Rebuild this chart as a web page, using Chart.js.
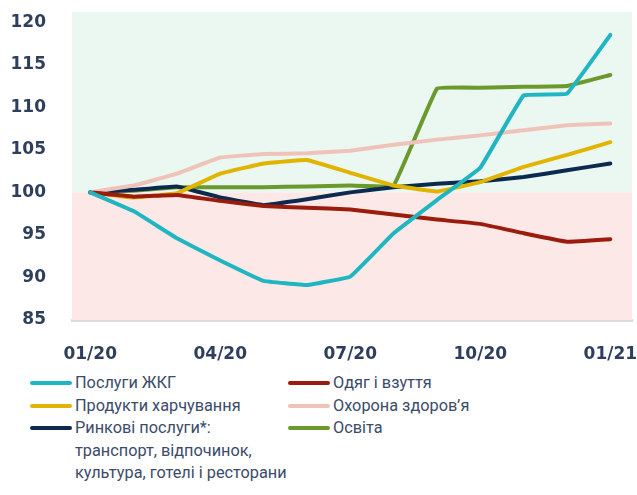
<!DOCTYPE html>
<html lang="uk">
<head>
<meta charset="utf-8">
<script src="https://cdn.jsdelivr.net/npm/chart.js@4.4.1/dist/chart.umd.min.js"></script>
<style>
  html, body { margin: 0; padding: 0; background: #fff; }
  #wrap { position: relative; width: 637px; height: 495px; overflow: hidden; }
  #box { position: absolute; left: 0; top: 0; width: 637px; height: 370px; }
  #legend {
    position: absolute; left: 30px; top: 372px;
    display: grid; grid-template-columns: 258px 300px; align-items: start;
    font-family: Roboto, "Liberation Sans", sans-serif; font-size: 16.3px;
    line-height: 22.5px; color: #3b4b6a;
  }
  .item { display: flex; align-items: flex-start; }
  .mark { flex: none; width: 42px; height: 4px; border-radius: 2px; margin: 9px 3px 0 0; }
  .txt { white-space: pre; }
</style>
</head>
<body>
<div id="wrap">
  <div id="box"><canvas id="chart"></canvas></div>
  <div id="legend"></div>
</div>
<script>
// months 01/20 .. 01/21, index = month number from start
const months = ['01/20', '02/20', '03/20', '04/20', '05/20', '06/20', '07/20',
                '08/20', '09/20', '10/20', '11/20', '12/20', '01/21'];
const xTickIdx = [0, 3, 6, 9, 12];
const yTicks = [85, 90, 95, 100, 105, 110, 115, 120];

const housing   = [100, 97.8, 94.6, 92.0, 89.6, 89.1, 90.1, 95.2, 99.1, 102.9, 111.4, 111.6, 118.5];
const clothing  = [100, 99.5, 99.7, 99.0, 98.4, 98.2, 98.0, 97.4, 96.8, 96.3, 95.2, 94.2, 94.5];
const food      = [100, 99.4, 99.9, 102.2, 103.4, 103.8, 102.3, 100.8, 100.1, 101.2, 103.0, 104.4, 105.9];
const health    = [100, 100.8, 102.2, 104.1, 104.5, 104.6, 104.9, 105.6, 106.2, 106.7, 107.3, 107.9, 108.1];
const market    = [100, 100.3, 100.7, 99.4, 98.5, 99.2, 100.0, 100.6, 101.0, 101.3, 101.8, 102.6, 103.4];
const education = [100, 100.2, 100.6, 100.6, 100.6, 100.7, 100.8, 100.8, 112.2, 112.3, 112.4, 112.5, 113.8];

// legend order: left column / right column, row by row
const series = [
  { label: 'Послуги ЖКГ', data: housing, color: '#1fb6c2' },
  { label: 'Одяг і взуття', data: clothing, color: '#9b1c0c' },
  { label: 'Продукти харчування', data: food, color: '#e1b400' },
  { label: 'Охорона здоров’я', data: health, color: '#efc3ba' },
  { label: 'Ринкові послуги*:\nтранспорт, відпочинок,\nкультура, готелі і ресторани', data: market, color: '#0c2a4e' },
  { label: 'Освіта', data: education, color: '#6b9a2c' }
];

const yMin = 85, yMax = 121.2, yBase = 100;

// pale green above 100, pale red below
const bands = {
  id: 'bands',
  beforeDatasetsDraw(chart) {
    const { ctx, chartArea: a, scales: { y } } = chart;
    const mid = y.getPixelForValue(yBase);
    ctx.save();
    ctx.fillStyle = '#ebf7f1';
    ctx.fillRect(a.left, y.getPixelForValue(yMax), a.right - a.left, mid - y.getPixelForValue(yMax));
    ctx.fillStyle = '#fce9e7';
    ctx.fillRect(a.left, mid, a.right - a.left, y.getPixelForValue(yMin) - mid);
    ctx.restore();
  }
};

const tickFont = { family: '"DejaVu Sans", sans-serif', size: 17, weight: 'bold' };
const tickColor = '#2e3f5e';

new Chart(document.getElementById('chart'), {
  type: 'line',
  data: {
    datasets: series.map((s, i) => ({
      label: s.label,
      data: s.data.map((v, k) => ({ x: k, y: v })),
      borderColor: s.color,
      backgroundColor: s.color,
      borderWidth: 4,
      pointRadius: 0,
      tension: 0.06,
      borderCapStyle: 'round',
      borderJoinStyle: 'round',
      order: i
    }))
  },
  options: {
    responsive: true,
    maintainAspectRatio: false,
    animation: false,
    layout: { padding: { top: 12, right: 5, left: 0, bottom: 0 } },
    plugins: { legend: { display: false }, tooltip: { enabled: false } },
    scales: {
      x: {
        type: 'linear',
        min: -0.42,
        max: 12.5,
        grid: { display: false, drawTicks: false },
        border: { display: true, color: '#dcdcdc', width: 3 },
        afterBuildTicks: s => { s.ticks = xTickIdx.map(v => ({ value: v })); },
        afterFit: s => { s.height = 50; s.paddingLeft = 0; s.paddingRight = 0; },
        ticks: {
          autoSkip: false,
          maxRotation: 0,
          padding: 24,
          font: tickFont,
          color: tickColor,
          callback: v => months[v]
        }
      },
      y: {
        min: yMin,
        max: yMax,
        grid: { display: false, drawTicks: false },
        border: { display: false },
        afterBuildTicks: s => { s.ticks = yTicks.map(v => ({ value: v })); },
        afterFit: s => { s.width = 72; s.paddingTop = 0; s.paddingBottom = 0; },
        ticks: { padding: 26, font: tickFont, color: tickColor }
      }
    }
  },
  plugins: [bands]
});

// html legend built from the same series
const legend = document.getElementById('legend');
series.forEach(s => {
  const item = document.createElement('div');
  item.className = 'item';
  const mark = document.createElement('span');
  mark.className = 'mark';
  mark.style.background = s.color;
  const txt = document.createElement('span');
  txt.className = 'txt';
  txt.textContent = s.label;
  item.append(mark, txt);
  legend.appendChild(item);
});
</script>
</body>
</html>
